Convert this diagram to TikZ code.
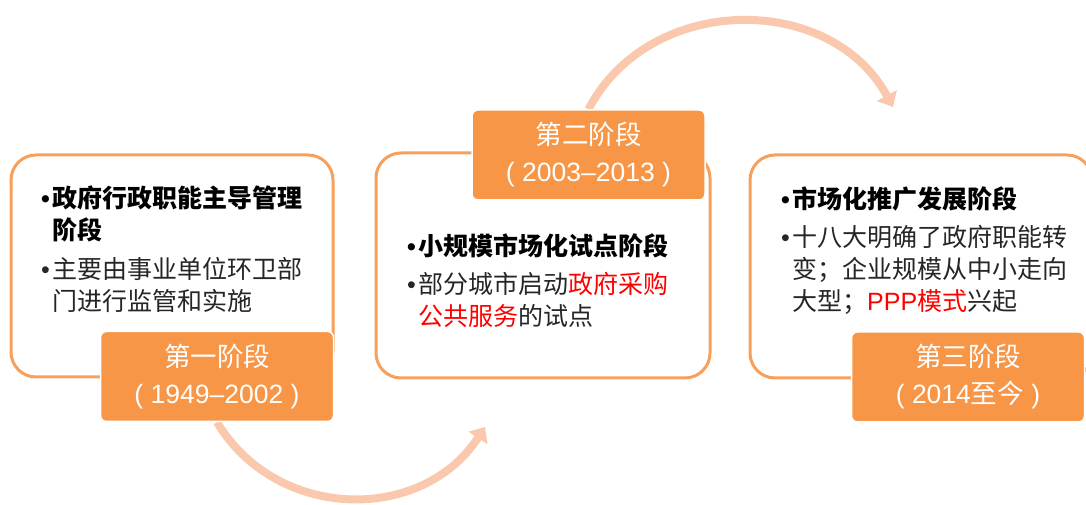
\documentclass[tikz,border=0pt]{standalone}
\usepackage{fontspec}
\setmainfont{Noto Sans CJK SC}
\newfontfamily\numfont{Liberation Sans}
\usetikzlibrary{arrows.meta,backgrounds}

\definecolor{stageorange}{RGB}{247,150,70}
\definecolor{stageline}{RGB}{247,160,92}
\definecolor{flowpeach}{RGB}{250,201,173}
\definecolor{bodygray}{RGB}{38,38,38}

\newcommand{\stagebullet}{\makebox[11pt][l]{\numfont •}}
\newcommand{\stageindent}{\hspace*{11pt}}

\begin{document}
\begin{tikzpicture}[x=1pt,y=1pt,
    flow/.style={draw=flowpeach,line width=8pt,-{Triangle[length=13pt,width=22pt]}}]

      \useasboundingbox (0,0) rectangle (1086,505);

      % big boxes
      \begin{scope}[every node/.style={draw=stageline,line width=3pt,fill=white,rounded corners=25pt}]
        \node[minimum width=322pt,minimum height=222pt] (box1) at (172,239) {};
        \node[minimum width=334pt,minimum height=225pt] (box2) at (543,239.5) {};
        \node[minimum width=342pt,minimum height=223pt] (box3) at (921,238.5) {};
      \end{scope}

      % stage tabs
      \begin{scope}[every node/.style={fill=stageorange,draw=white,line width=1.5pt,rounded corners=6pt,
          minimum width=233pt,minimum height=90pt,text=white,align=center,font=\fontsize{26.5}{37}\selectfont}]
        \node (tab1) at (217,128.5) {第一阶段\\{\numfont( 1949–2002 )}};
        \node (tab2) at (588.5,350) {第二阶段\\{\numfont( 2003–2013 )}};
        \node (tab3) at (968,128) {第三阶段\\{\numfont( 2014}至今{\numfont\ )}};
      \end{scope}

      % texts
      \begin{scope}[every node/.style={anchor=base west,text width=300pt,align=left,inner sep=0pt,
          text=bodygray,font=\fontsize{25}{32}\selectfont}]
        \node (txt1) at (41,297) {{\bfseries\color{black}\stagebullet 政府行政职能主导管理\\\stageindent 阶段}\\[7pt]\stagebullet 主要由事业单位环卫部\\\stageindent 门进行监管和实施};
        \node (txt2) at (407,249) {{\bfseries\color{black}\stagebullet 小规模市场化试点阶段}\\[6pt]\stagebullet 部分城市启动{\color{red}政府采购}\\\stageindent{\color{red}公共服务}的试点};
        \node (txt3) at (781,296) {{\bfseries\color{black}\stagebullet 市场化推广发展阶段}\\[6pt]\stagebullet 十八大明确了政府职能转\\\stageindent 变；企业规模从中小走向\\\stageindent 大型；{\color{red}{\numfont PPP}模式}兴起};
      \end{scope}

      \coordinate (end1) at (485,78);
      \coordinate (end2) at (893,398);

      % arrows
      \begin{scope}[on background layer]
        \draw[flow] (tab1.south) to[bend right=58,looseness=1.1] (end1);
        \draw[flow] (tab2.north) to[bend left=62,looseness=1.1] (end2);
      \end{scope}

    \end{tikzpicture}
\end{document}
